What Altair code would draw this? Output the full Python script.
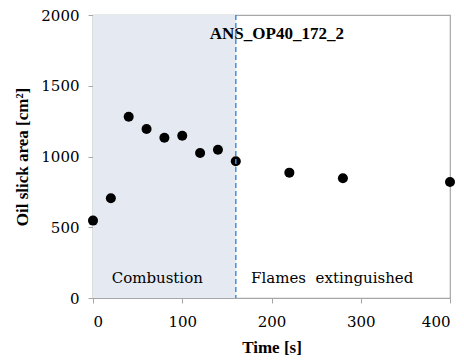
import altair as alt
import pandas as pd

time_s = [0, 20, 40, 60, 80, 100, 120, 140, 160, 220, 280, 400]
area_cm2 = [547, 705, 1281, 1194, 1133, 1147, 1025, 1048, 967, 886, 846, 820]

phase_start = [0]
phase_end = [160]
title_text = "ANS_OP40_172_2"
phase_labels = ["Combustion", "Flames\u00a0 extinguished"]
phase_label_x = [72, 268]

BOLD_FONT = "Liberation Serif"
REG_FONT = "DejaVu Serif"
AX = "#a6a6a6"

pts = pd.DataFrame({"t": time_s, "a": area_cm2})
shade = pd.DataFrame({"x0": phase_start, "x1": phase_end, "y0": [0], "y1": [2000]})
rule = pd.DataFrame({"x": phase_end})
lab = pd.DataFrame({"x": phase_label_x, "y": [143, 143], "txt": phase_labels})
ttl = pd.DataFrame({"x": [206], "y": [1866], "txt": [title_text]})

xs = alt.Scale(domain=[0, 400], nice=False)
ys = alt.Scale(domain=[0, 2000], nice=False)

base_x = alt.X("t:Q", scale=xs, title="Time [s]",
               axis=alt.Axis(values=[0, 100, 200, 300, 400], grid=False, format="d"))
base_y = alt.Y("a:Q", scale=ys, title="Oil slick area [cm²]",
               axis=alt.Axis(values=[0, 500, 1000, 1500, 2000], grid=False, format="d"))

rect = alt.Chart(shade).mark_rect(color="#e5e9f2").encode(
    x=alt.X("x0:Q", scale=xs), x2="x1:Q",
    y=alt.Y("y0:Q", scale=ys), y2="y1:Q")

vline = alt.Chart(rule).mark_rule(color="#3d8fe0", strokeDash=[5, 3], strokeWidth=1.5).encode(
    x=alt.X("x:Q", scale=xs))

points = alt.Chart(pts).mark_circle(color="black", size=100, opacity=1).encode(
    x=base_x, y=base_y)

labels = alt.Chart(lab).mark_text(font=REG_FONT, fontSize=15, color="black").encode(
    x=alt.X("x:Q", scale=xs), y=alt.Y("y:Q", scale=ys), text="txt:N")

title = alt.Chart(ttl).mark_text(font=BOLD_FONT, fontSize=17, fontWeight="bold", color="black").encode(
    x=alt.X("x:Q", scale=xs), y=alt.Y("y:Q", scale=ys), text="txt:N")

chart = alt.layer(rect, points, labels, title, vline).properties(
    width=357, height=283,
    autosize=alt.AutoSizeParams(type="none"),
    padding={"left": 85, "top": 7, "right": 6, "bottom": 58},
).configure_view(stroke=AX, strokeWidth=1.2).configure_axis(
    domainColor=AX, tickColor=AX, tickSize=5, domainWidth=1.2,
    labelFont=REG_FONT, labelFontSize=15, labelColor="black",
    titleFont=BOLD_FONT, titleFontSize=17, titleFontWeight="bold", titleColor="black",
).configure_axisX(titlePadding=10, labelPadding=11).configure_axisY(titlePadding=9, labelPadding=9)

chart.save("out.html", embed_options={"renderer": "svg", "actions": False})
